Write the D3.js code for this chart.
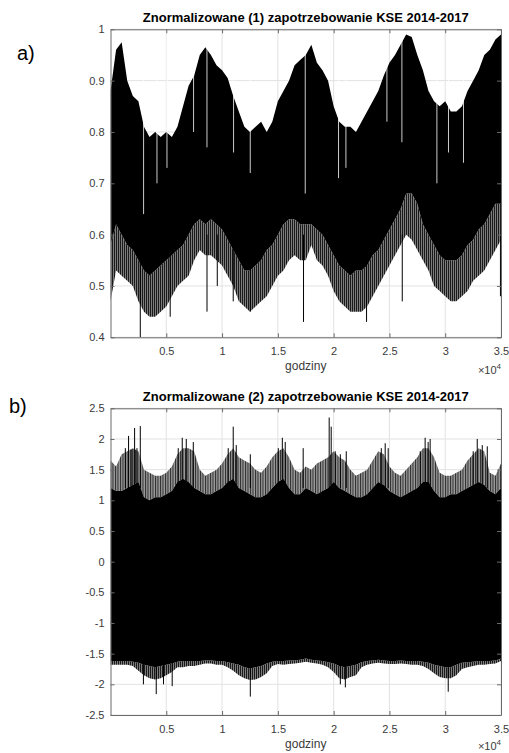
<!DOCTYPE html>
<html>
<head>
<meta charset="utf-8">
<title>Znormalizowane zapotrzebowanie KSE 2014-2017</title>
<script src="https://d3js.org/d3.v7.min.js"></script>
<style>
body { margin: 0; background: #fff; }
svg { font-family: "Liberation Sans", Arial, sans-serif; }
</style>
</head>
<body>
<script>

var width = 509, height = 753;

// probki co 500 godzin, obwiednie
var godziny = [0,500,1000,1500,2000,2500,3000,3500,4000,4500,5000,5500,6000,6500,7000,7500,8000,8500,9000,9500,
  10000,10500,11000,11500,12000,12500,13000,13500,14000,14500,15000,15500,16000,16500,17000,17500,18000,18500,19000,19500,
  20000,20500,21000,21500,22000,22500,23000,23500,24000,24500,25000,25500,26000,26500,27000,27500,28000,28500,29000,29500,
  30000,30500,31000,31500,32000,32500,33000,33500,34000,34500,35000];

// a) gorna obwiednia, dol czarnego pasa, dolna obwiednia (minima dobowe)
var aGora = [0.88,0.96,0.975,0.90,0.87,0.86,0.81,0.79,0.80,0.79,
  0.80,0.79,0.81,0.85,0.89,0.91,0.95,0.965,0.95,0.93,
  0.92,0.905,0.87,0.84,0.81,0.80,0.81,0.82,0.80,0.82,
  0.86,0.88,0.90,0.93,0.94,0.95,0.97,0.935,0.92,0.90,
  0.85,0.82,0.81,0.81,0.80,0.82,0.84,0.86,0.88,0.91,
  0.935,0.95,0.97,0.99,0.985,0.95,0.92,0.88,0.86,0.85,
  0.86,0.84,0.84,0.85,0.88,0.90,0.92,0.95,0.96,0.98,0.99];
var aCzarnyDol = [0.58,0.62,0.60,0.58,0.57,0.55,0.53,0.52,0.53,0.54,
  0.55,0.56,0.57,0.58,0.60,0.62,0.63,0.62,0.63,0.62,
  0.61,0.59,0.57,0.55,0.53,0.53,0.54,0.55,0.57,0.58,
  0.60,0.62,0.63,0.63,0.62,0.62,0.62,0.61,0.60,0.58,
  0.56,0.54,0.53,0.52,0.53,0.53,0.54,0.56,0.57,0.59,
  0.61,0.63,0.65,0.68,0.68,0.66,0.62,0.60,0.58,0.56,
  0.55,0.55,0.55,0.56,0.58,0.59,0.61,0.62,0.64,0.66,0.66];
var aDol = [0.47,0.53,0.52,0.51,0.50,0.47,0.45,0.44,0.44,0.45,
  0.46,0.48,0.50,0.51,0.52,0.55,0.57,0.56,0.56,0.55,
  0.54,0.52,0.50,0.47,0.46,0.45,0.46,0.47,0.48,0.50,
  0.52,0.53,0.55,0.56,0.55,0.55,0.58,0.55,0.54,0.52,
  0.49,0.47,0.46,0.45,0.45,0.45,0.46,0.48,0.50,0.52,
  0.54,0.56,0.58,0.60,0.59,0.57,0.55,0.53,0.50,0.49,
  0.48,0.47,0.47,0.48,0.49,0.51,0.52,0.53,0.55,0.57,0.59];
// pojedyncze glebokie szpilki
var aSzpilkiX = [2670, 5350, 8650, 9570, 11000, 12530, 17300, 22950, 26150, 34950];
var aSzpilkiY = [0.40, 0.44, 0.45, 0.50, 0.47, 0.45, 0.43, 0.43, 0.47, 0.48];
// swieta: biale przerwy w gornej czesci (od gory do tej wartosci)
var aPrzerwyX = [2966, 4166, 5062, 7446, 8646, 11030, 12526, 17454, 20438, 21101, 24774, 26118, 29254, 30294, 31638];
var aPrzerwyY = [0.64, 0.70, 0.73, 0.80, 0.77, 0.76, 0.72, 0.68, 0.71, 0.73, 0.82, 0.78, 0.70, 0.76, 0.74];

// b) gorna szara obwiednia, czarny pas (gora/dol), dolna obwiednia
var bGora = [1.65,1.55,1.75,1.8,1.85,1.8,1.5,1.45,1.4,1.4,
  1.45,1.55,1.75,1.85,1.85,1.8,1.5,1.4,1.45,1.5,
  1.6,1.75,1.85,1.7,1.65,1.6,1.5,1.45,1.55,1.7,
  1.8,1.85,1.7,1.5,1.45,1.55,1.5,1.6,1.65,1.7,
  1.8,1.7,1.65,1.5,1.4,1.45,1.5,1.65,1.8,1.75,
  1.55,1.45,1.4,1.5,1.6,1.7,1.85,1.85,1.7,1.45,
  1.4,1.4,1.45,1.5,1.65,1.75,1.85,1.8,1.45,1.4,1.6];
var bCzarnyGora = [1.2,1.15,1.15,1.2,1.25,1.3,1.05,1.0,1.05,1.05,
  1.1,1.15,1.3,1.35,1.3,1.2,1.15,1.1,1.1,1.15,
  1.2,1.3,1.35,1.2,1.15,1.1,1.05,1.05,1.1,1.2,
  1.3,1.35,1.2,1.1,1.1,1.2,1.15,1.1,1.15,1.2,
  1.3,1.2,1.15,1.1,1.05,1.05,1.1,1.2,1.3,1.25,
  1.15,1.1,1.05,1.1,1.15,1.2,1.3,1.3,1.15,1.05,
  1.05,1.1,1.1,1.15,1.2,1.25,1.3,1.25,1.15,1.1,1.2];
var bCzarnyDol = [-1.62,-1.62,-1.62,-1.62,-1.63,-1.65,-1.68,-1.7,-1.72,-1.7,
  -1.68,-1.66,-1.63,-1.62,-1.62,-1.62,-1.62,-1.61,-1.61,-1.62,
  -1.62,-1.64,-1.66,-1.68,-1.72,-1.74,-1.72,-1.7,-1.66,-1.63,
  -1.62,-1.62,-1.61,-1.61,-1.6,-1.58,-1.6,-1.61,-1.62,-1.64,
  -1.66,-1.7,-1.72,-1.7,-1.68,-1.64,-1.62,-1.61,-1.6,-1.61,
  -1.62,-1.62,-1.61,-1.62,-1.62,-1.62,-1.63,-1.65,-1.68,-1.7,
  -1.72,-1.72,-1.68,-1.65,-1.64,-1.63,-1.62,-1.62,-1.62,-1.61,-1.58];
var bDol = [-1.68,-1.68,-1.68,-1.68,-1.7,-1.78,-1.85,-1.9,-1.92,-1.9,
  -1.85,-1.8,-1.72,-1.72,-1.7,-1.7,-1.68,-1.66,-1.66,-1.68,
  -1.68,-1.72,-1.78,-1.85,-1.9,-1.93,-1.92,-1.88,-1.82,-1.7,
  -1.67,-1.68,-1.67,-1.66,-1.65,-1.63,-1.65,-1.66,-1.68,-1.72,
  -1.8,-1.9,-1.92,-1.88,-1.85,-1.72,-1.68,-1.66,-1.65,-1.66,
  -1.67,-1.67,-1.66,-1.67,-1.68,-1.68,-1.7,-1.75,-1.82,-1.88,
  -1.9,-1.9,-1.85,-1.75,-1.72,-1.7,-1.68,-1.68,-1.67,-1.66,-1.62];
var bSzpilkiGoraX = [1330,1620,1920,2160,2370,2670, 6070,6430,6790,7420, 10550,11000,11270,12530,
  15040,15400,15660,17270, 19600,19780,20140,20600,21130, 24270,24620,24890,
  27760,28200,28470,28650, 32510,32870,33320,33770];
var bSzpilkiGoraY = [1.85,2.05,1.83,2.18,1.85,2.21, 1.85,2.02,2.0,1.95, 1.85,2.2,1.9,1.75,
  1.85,2.02,1.95,1.85, 2.35,2.2,1.8,1.75,1.8, 1.85,1.93,1.85,
  1.8,2.02,1.95,2.0, 1.8,2.0,1.9,1.88];
var bSzpilkiDolX = [2950, 4100, 4750, 5530, 12530, 20600, 21050, 30270];
var bSzpilkiDolY = [-2.0, -2.16, -2.0, -2.03, -2.2, -2.0, -2.05, -2.12];

var xTicks = [5000,10000,15000,20000,25000,30000,35000];
var aYTicks = [0.4,0.5,0.6,0.7,0.8,0.9,1];
var bYTicks = [-2.5,-2,-1.5,-1,-0.5,0,0.5,1,1.5,2,2.5];

var svg = d3.select("body").append("svg").attr("width", width).attr("height", height);

var defs = svg.append("defs");
// gesto rysowane linie wygladaja jak szare paski
function wzor(id, w, tlo, linia) {
  var p = defs.append("pattern").attr("id", id)
    .attr("patternUnits", "userSpaceOnUse").attr("width", w).attr("height", 10);
  p.append("rect").attr("width", w).attr("height", 10).attr("fill", tlo);
  p.append("rect").attr("width", 1).attr("height", 10).attr("fill", linia);
}
wzor("ciemne", 2, "#7c7c7c", "#1a1a1a");
wzor("jasne", 2.5, "#9a9a9a", "#2a2a2a");

var x = d3.scaleLinear().domain([0, 35000]).range([110.5, 501]);

function panel(top, bottom, yDomain, yTicks, title, label, labelX, labelY, id) {
  var y = d3.scaleLinear().domain(yDomain).range([bottom, top]);
  var g = svg.append("g");

  defs.append("clipPath").attr("id", id).append("rect")
    .attr("x", x.range()[0]).attr("y", top)
    .attr("width", x.range()[1] - x.range()[0]).attr("height", bottom - top);

  // siatka
  g.selectAll(".gx").data(xTicks).enter().append("line")
    .attr("x1", function(d){ return x(d); }).attr("x2", function(d){ return x(d); })
    .attr("y1", top).attr("y2", bottom)
    .attr("stroke", "#e2e2e2");
  g.selectAll(".gy").data(yTicks).enter().append("line")
    .attr("y1", function(d){ return y(d); }).attr("y2", function(d){ return y(d); })
    .attr("x1", x.range()[0]).attr("x2", x.range()[1])
    .attr("stroke", "#e2e2e2");

  var dane = g.append("g").attr("clip-path", "url(#" + id + ")");

  // naglowek i litera panelu
  svg.append("text").attr("x", (x.range()[0] + x.range()[1]) / 2).attr("y", top - 7)
    .attr("text-anchor", "middle").attr("font-weight", "bold").attr("font-size", 13)
    .attr("fill", "#000").text(title);
  svg.append("text").attr("x", labelX).attr("y", labelY)
    .attr("font-size", 20).attr("fill", "#000").text(label);

  // osie
  var ax = g.append("g");
  ax.append("g").attr("transform", "translate(0," + bottom + ")")
    .call(d3.axisBottom(x).tickValues(xTicks).tickSizeInner(-4).tickSizeOuter(0).tickPadding(10)
      .tickFormat(function(d){ return d / 10000; }));
  ax.append("g").attr("transform", "translate(0," + top + ")")
    .call(d3.axisTop(x).tickValues(xTicks).tickSizeInner(-4).tickSizeOuter(0).tickFormat(""));
  ax.append("g").attr("transform", "translate(" + x.range()[0] + ",0)")
    .call(d3.axisLeft(y).tickValues(yTicks).tickSizeInner(-4).tickSizeOuter(0).tickPadding(6)
      .tickFormat(function(d){ return d; }));
  ax.append("g").attr("transform", "translate(" + x.range()[1] + ",0)")
    .call(d3.axisRight(y).tickValues(yTicks).tickSizeInner(-4).tickSizeOuter(0).tickFormat(""));
  ax.selectAll("text").attr("font-size", 11).attr("fill", "#3a3a3a")
    .attr("font-family", "'Liberation Sans', Arial, sans-serif");
  ax.selectAll("path, line").attr("stroke", "#6a6a6a");

  svg.append("text").attr("x", (x.range()[0] + x.range()[1]) / 2).attr("y", bottom + 33)
    .attr("text-anchor", "middle").attr("font-size", 12).attr("fill", "#3a3a3a").text("godziny");
  var wyk = svg.append("text").attr("x", 501).attr("y", Math.min(bottom + 37, height - 3))
    .attr("text-anchor", "end").attr("font-size", 11).attr("fill", "#3a3a3a");
  wyk.append("tspan").text("\u00d710");
  wyk.append("tspan").attr("dy", -5).attr("font-size", 8).text("4");

  return { y: y, dane: dane, osie: ax };
}

function pas(p, lo, hi, fill) {
  var area = d3.area()
    .x(function(d, i){ return x(godziny[i]); })
    .y0(function(d, i){ return p.y(lo[i]); })
    .y1(function(d, i){ return p.y(hi[i]); });
  p.dane.append("path").datum(hi).attr("d", area).attr("fill", fill);
}

function szpilki(p, xs, ys, od, kolor, grubosc) {
  p.dane.selectAll(null).data(xs).enter().append("line")
    .attr("x1", function(d){ return x(d); }).attr("x2", function(d){ return x(d); })
    .attr("y1", p.y(od)).attr("y2", function(d, i){ return p.y(ys[i]); })
    .attr("stroke", kolor).attr("stroke-width", grubosc || 1);
}

// a)
var pa = panel(29.3, 337.3, [0.4, 1], aYTicks, "Znormalizowane (1) zapotrzebowanie KSE 2014-2017", "a)", 17, 60, "klipA");
pas(pa, aDol, aCzarnyDol, "url(#ciemne)");
pas(pa, aCzarnyDol, aGora, "#000");
szpilki(pa, aSzpilkiX, aSzpilkiY, 0.6, "#000");
szpilki(pa, aPrzerwyX, aPrzerwyY, 1, "#fff", 0.8);
pa.osie.raise();

// b)
var pb = panel(408.3, 715, [-2.5, 2.5], bYTicks, "Znormalizowane (2) zapotrzebowanie KSE 2014-2017", "b)", 9, 413, "klipB");
pas(pb, bCzarnyGora, bGora, "url(#jasne)");
pas(pb, bDol, bCzarnyDol, "url(#ciemne)");
pas(pb, bCzarnyDol, bCzarnyGora, "#000");
szpilki(pb, bSzpilkiGoraX, bSzpilkiGoraY, 1.2, "#000");
szpilki(pb, bSzpilkiDolX, bSzpilkiDolY, -1.6, "#000");
pb.osie.raise();

</script>
</body>
</html>
